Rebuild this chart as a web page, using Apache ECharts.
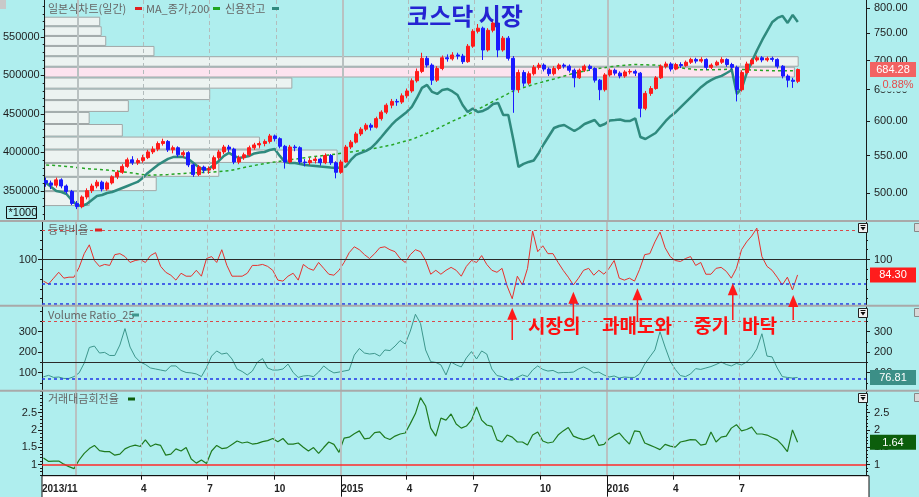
<!DOCTYPE html>
<html>
<head>
<meta charset="utf-8">
<script src="https://cdn.jsdelivr.net/npm/echarts@6.0.0/dist/echarts.min.js"></script>
<style>
html,body{margin:0;padding:0;background:#afeeee;overflow:hidden;}
#chart{width:919px;height:497px;}
</style>
</head>
<body>
<div id="chart"></div>
<script>
// ================= DATA =================
const firstWeek = '2013-11-18';           // one sample per week
// weekly candles: [open, close, low, high]
const candles = [
[516,513,508,520],[513,510,505,516],[510,517,507,520],[517,509,506,519],[509,502,499,511],
[502,487,485,504],[487,483,480,490],[483,495,481,497],[495,503,492,506],[503,509,500,512],
[509,514,506,517],[514,505,502,516],[505,513,503,515],[513,521,511,523],[521,527,518,530],
[527,535,525,538],[535,544,533,547],[544,540,537,549],[540,543,537,546],[543,547,540,551],
[547,555,545,558],[555,559,552,563],[559,567,556,570],[567,570,564,574],[570,558,555,572],
[558,561,553,564],[561,551,548,563],[551,554,547,557],[554,537,534,556],[537,524,521,539],
[524,534,522,537],[534,530,526,536],[530,532,525,535],[532,547,530,550],[547,555,544,558],
[555,562,552,565],[562,559,555,565],[559,541,538,561],[541,547,538,550],[547,551,544,554],
[551,561,549,564],[561,565,558,568],[565,567,561,570],[567,570,563,573],[570,578,567,581],
[578,574,570,580],[574,563,560,576],[563,541,532,565],[541,562,539,565],[562,561,556,565],
[561,541,538,563],[541,540,535,545],[540,543,537,547],[543,545,539,548],[545,540,536,547],
[540,550,538,553],[550,540,537,552],[540,527,519,542],[527,541,525,544],[541,562,540,565],
[562,569,559,572],[569,581,567,584],[581,588,578,591],[588,594,585,597],[594,591,586,597],
[591,604,589,607],[604,614,601,617],[614,625,611,628],[625,631,620,635],[631,630,624,635],
[630,640,627,644],[640,648,636,652],[648,665,645,669],[665,681,662,686],[681,704,678,714],
[704,692,688,708],[692,666,658,695],[666,686,663,690],[686,705,683,709],[705,703,698,711],
[703,710,700,715],[710,708,702,714],[708,698,694,712],[698,726,696,730],[726,754,723,758],
[754,760,750,768],[760,719,701,763],[719,756,716,760],[756,770,752,774],[770,719,706,773],
[719,741,716,745],[741,704,700,745],[704,650,613,708],[650,679,645,684],[679,661,655,683],
[661,677,658,681],[677,688,674,692],[688,692,684,696],[692,685,681,695],[685,677,673,688],
[677,686,674,690],[686,692,683,695],[692,690,686,695],[690,683,679,693],[683,670,654,686],
[670,683,668,686],[683,690,680,693],[690,686,682,693],[686,666,662,688],[666,650,633,668],
[650,675,647,678],[675,683,672,686],[683,678,674,686],[678,673,669,681],[673,680,670,683],
[680,681,676,685],[681,678,673,684],[678,620,606,680],[620,644,617,648],[644,652,640,656],
[652,670,650,673],[670,690,668,693],[690,694,686,698],[694,685,681,697],[685,693,683,696],
[693,691,687,697],[691,697,689,700],[697,702,694,705],[702,699,695,705],[699,702,696,706],
[702,688,684,704],[688,692,685,695],[692,697,690,700],[697,702,694,706],[702,693,689,704],
[693,688,684,696],[688,650,631,691],[650,679,647,683],[679,694,676,698],[694,701,691,704],
[701,705,698,709],[705,701,697,708],[701,704,698,707],[704,702,698,707],[702,690,686,704],
[690,673,669,692],[673,666,654,676],[666,664,653,670],[664,684.28,661,686]
];
// 신용잔고 (credit balance, left axis, weekly)
const credit = [
360400,355200,350000,348700,346100,338300,331800,330500,333100,338300,
343500,344800,347400,348700,351300,353900,356500,359100,361700,366900,
373400,378500,383800,387700,391600,394000,394500,394000,391600,386400,
381200,377300,378500,383800,389000,395500,399400,395500,392700,394000,
395500,398700,400000,400600,403200,404500,395500,387700,386400,386400,
385100,383800,383100,382500,381800,381200,380500,379900,380500,381800,
390300,396800,399400,402000,405900,412400,420100,428000,435700,442200,
447400,452600,459100,470800,483800,487700,478600,476000,481200,482500,
479200,474700,461700,452600,457200,452600,453900,457200,463000,464300,
448700,448700,416200,381200,385100,387700,389600,399400,411000,421400,
431800,434400,435700,431800,427900,431800,437000,439600,442200,434400,
437000,441600,442200,442900,440900,440900,444200,420100,417500,421400,
425300,433100,440900,447400,452600,459100,465600,472100,478600,485100,
490300,494200,497400,499400,503200,507100,476000,483800,504500,518800,
533100,546100,557800,569500,574700,577300,568200,578600,569500
];
// MA_종가,200 (one value every 4 weeks)
const ma200Step = 4;
const ma200 = [537,535,532,530,527,523,524,526,527,529,535,540,544,548,551,555,559,565,573,585,
600,614,631,648,659,668,678,685,690,693,692,688,684,684,685,683,682,682];
// 등락비율
const adr = [
78,75,81,87,81,82,82,92,106,115, 99,93,95,94,105,106,103,97,99,100,
97,104,107,93,87,84,79,86,83,83, 89,83,101,103,97,110,94,83,83,83,
86,94,94,95,93,89,79,78,83,86, 79,95,91,89,97,91,85,84,89,97,
107,113,110,105,101,106,112,113,110,108, 101,97,105,110,108,99,85,89,85,89,
92,89,83,93,99,97,104,95,89,87, 91,73,60,83,74,91,129,108,114,106,
106,97,89,82,74,81,89,91,84,89, 85,91,99,81,79,81,78,90,105,106,
118,128,112,103,99,98,101,103,94,97, 85,85,91,92,88,81,91,110,118,124,
132,103,93,89,82,74,82,69,84.3
];
// Volume Ratio_25
const volumeRatio = [
80,87,77,79,72,72,81,99,147,223, 230,196,199,184,184,235,315,225,177,152,
140,123,118,113,108,133,133,111,101,99, 94,81,125,181,206,191,196,167,118,106,
89,108,152,169,123,113,113,118,142,101, 77,84,86,81,103,133,113,99,103,108,
113,186,218,196,191,194,181,211,208,230, 257,240,303,385,340,211,154,150,138,89,
152,138,128,172,203,167,206,191,118,86, 81,67,62,77,89,81,113,133,116,108,
111,99,101,101,103,118,128,116,99,103, 89,79,84,74,79,77,77,94,142,177,
211,300,225,157,116,86,81,94,120,116, 123,130,140,152,140,133,145,138,152,177,
216,290,181,177,123,81,77,74,76.81
];
// 거래대금회전율
const turnover = [
1.19,1.09,1.10,1.10,1.01,0.94,0.88,1.13,1.32,1.46, 1.55,1.40,1.37,1.37,1.27,1.30,1.45,1.52,1.56,1.52,
1.71,1.52,1.59,1.55,1.27,1.30,1.45,1.39,1.49,1.16, 1.04,1.13,1.03,1.39,1.55,1.46,1.48,1.58,1.68,1.62,
1.65,1.59,1.61,1.66,1.69,1.75,1.66,1.75,1.59,1.59, 1.62,1.50,1.39,1.49,1.32,1.49,1.65,1.58,1.35,1.76,
1.79,1.89,1.97,1.74,1.76,1.92,1.94,1.78,1.72,1.82, 1.88,1.91,2.18,2.47,2.93,2.69,2.05,1.82,2.34,2.28,
2.46,2.17,2.05,2.11,2.28,2.66,2.28,2.14,2.10,1.71, 1.65,1.85,1.79,1.65,1.65,1.56,1.85,1.94,1.68,1.62,
1.65,1.85,1.97,2.07,1.82,1.76,1.72,1.76,1.85,1.55, 1.58,1.74,1.84,1.91,1.74,1.59,1.97,1.95,1.62,1.56,
1.50,1.43,1.58,1.53,1.50,1.65,1.68,1.72,1.71,1.56, 1.59,1.94,1.65,1.79,1.82,2.05,2.15,1.97,2.01,2.08,
1.88,1.88,1.85,1.78,1.71,1.56,1.37,2.00,1.64
];
// price-by-volume bands (price edges, bottom -> top) and relative volume per band
const profileEdges = [483.7,502.4,521.0,539.7,558.4,577.1,595.8,614.4,633.1,651.8,670.5,689.1,707.8,726.5,745.2,763.8,782.5];
const profileVolume = [5.9,14.8,23.1,38.8,28.5,10.3,5.9,11.1,21.9,32.8,99.5,100,14.5,8.1,7.5,7.3];

// axis tick labels
const priceTicks = [500,550,600,650,700,750,800];
const creditTicks = [350000,400000,450000,500000,550000];
const adrTicks = [100];
const vrTicks = [100,200,300];
const turnTicks = [1,1.5,2,2.5];
const xLabelDates = ['2013-11-16','2014-04-01','2014-07-01','2014-10-01','2015-01-01','2015-04-01','2015-07-01','2015-10-01','2016-01-01','2016-04-01','2016-07-01'];
const xLabelTexts = ['2013/11','4','7','10','2015','4','7','10','2016','4','7'];
const yearLines = ['2014-01-01','2015-01-01','2016-01-01'];
const quarterLines = ['2014-04-01','2014-07-01','2014-10-01','2015-04-01','2015-07-01','2015-10-01','2016-04-01','2016-07-01'];
// reference levels
const adrLevels = {high:130, mid:100, low:[75,55]};
const vrLevels = {high:350, mid:150, low:[70]};
const turnLevel = 1;
// annotation
const arrowDates = ['2015-08-24','2015-11-16','2016-02-12','2016-06-22','2016-09-13'];
const arrowTipAdr = [50.8,67.1,70.6,75.7,63.8];
const dayChange = '0.88%';

// ================= helpers =================
function ts(s){const p=s.split('-').map(Number);return new Date(p[0],p[1]-1,p[2]).getTime();}
function week(i){const p=firstWeek.split('-').map(Number);return new Date(p[0],p[1]-1,p[2]+7*i).getTime();}
function steps(from,to,step,skip){const out=[];for(let k=0;from+k*step<=to+1e-9;k++){const v=Math.round((from+k*step)*1000)/1000;if(!skip.some(s=>Math.abs(s-v)<1e-9))out.push(v);}return out;}

const X_MIN = ts('2013-11-16'), X_MAX = ts('2016-12-22');
const lastClose = candles[candles.length-1][1];

const candleData = candles.map((c,i)=>[week(i),c[0],c[1],c[2],c[3]]);
const creditData = credit.map((v,i)=>[week(i),v]);
const maData = ma200.map((v,k)=>[week(k*ma200Step),v]);
const adrData = adr.map((v,i)=>[week(i),v]);
const vrData = volumeRatio.map((v,i)=>[week(i),v]);
const turnData = turnover.map((v,i)=>[week(i),v]);
const profileData = profileVolume.map((v,k)=>[profileEdges[k],profileEdges[k+1],v]);

// ================= style / layout =================
const AX = '#1a1a1a';
const LBL = {color:'#1e1e1e',fontFamily:'Liberation Sans',fontSize:11};
const RANGE = {
  price:[465.7,816.4], credit:[311000,598000], adr:[52.9,139.3], vr:[12.2,426.8], turn:[0.677,3.13]
};

function mainAxis(grid,pos,type,r,ticks,fmt){
  return {gridIndex:grid,type:type,logBase:10,position:pos,min:r[0],max:r[1],
    axisLine:{show:true,onZero:false,lineStyle:{color:AX,width:1}},
    axisTick:{show:true,customValues:ticks,length:4,lineStyle:{color:AX}},
    axisLabel:Object.assign({show:true,customValues:ticks,formatter:fmt,margin:pos==='left'?5:8},LBL),
    splitLine:{show:false},z:4};
}
function minorAxis(grid,pos,type,r,ticks){
  return {gridIndex:grid,type:type,logBase:10,position:pos,min:r[0],max:r[1],
    axisLine:{show:false},axisTick:{show:true,customValues:ticks,length:2,lineStyle:{color:AX}},
    axisLabel:{show:false},splitLine:{show:false},z:4};
}
function boxAxis(grid,type,r,value,bg){
  return {gridIndex:grid,type:type,logBase:10,position:'right',min:r[0],max:r[1],
    axisLine:{show:false},axisTick:{show:false},splitLine:{show:false},
    axisLabel:{show:true,customValues:[value],margin:4,backgroundColor:bg,padding:[2,6,1,6],
      formatter:v=>'{v|'+Number(v).toFixed(2)+'}',
      rich:{v:{width:34,align:'center',color:'#ffffff',fontFamily:'Liberation Sans',fontSize:11,lineHeight:12}}},
    z:6};
}
const fmtPrice = v=>Number(v).toFixed(2);
const fmtPlain = v=>String(v);

const yAxis = [
  mainAxis(0,'right','log',RANGE.price,priceTicks,fmtPrice),                 //0
  mainAxis(0,'left','value',RANGE.credit,creditTicks,fmtPlain),               //1
  minorAxis(0,'left','value',RANGE.credit,steps(320000,590000,10000,creditTicks)), //2
  boxAxis(0,'log',RANGE.price,lastClose,'#f26262'),                           //3
  mainAxis(1,'left','value',RANGE.adr,adrTicks,fmtPlain),                     //4
  minorAxis(1,'left','value',RANGE.adr,steps(60,130,10,adrTicks)),            //5
  mainAxis(1,'right','value',RANGE.adr,adrTicks,fmtPlain),                    //6
  minorAxis(1,'right','value',RANGE.adr,steps(60,130,10,adrTicks)),           //7
  boxAxis(1,'value',RANGE.adr,adr[adr.length-1],'#ff1c1c'),                   //8
  mainAxis(2,'left','value',RANGE.vr,vrTicks,fmtPlain),                       //9
  minorAxis(2,'left','value',RANGE.vr,steps(50,400,50,vrTicks)),              //10
  mainAxis(2,'right','value',RANGE.vr,vrTicks,fmtPlain),                      //11
  minorAxis(2,'right','value',RANGE.vr,steps(50,400,50,vrTicks)),             //12
  boxAxis(2,'value',RANGE.vr,volumeRatio[volumeRatio.length-1],'#3c8f87'),    //13
  mainAxis(3,'left','value',RANGE.turn,turnTicks,fmtPlain),                   //14
  minorAxis(3,'left','value',RANGE.turn,steps(0.7,3.1,0.1,turnTicks)),        //15
  mainAxis(3,'right','value',RANGE.turn,turnTicks,fmtPlain),                  //16
  minorAxis(3,'right','value',RANGE.turn,steps(0.7,3.1,0.1,turnTicks)),       //17
  boxAxis(3,'value',RANGE.turn,turnover[turnover.length-1],'#0c5e0c')         //18
];

// x axes use numeric timestamps on value axes
const xLabelTs = xLabelDates.map(ts);
const xAxis = [
  {gridIndex:0,type:'value',min:X_MIN,max:X_MAX,show:false},
  {gridIndex:1,type:'value',min:X_MIN,max:X_MAX,show:false},
  {gridIndex:2,type:'value',min:X_MIN,max:X_MAX,show:false},
  {gridIndex:3,type:'value',min:X_MIN,max:X_MAX,position:'bottom',z:5,
    axisLine:{show:true,onZero:false,lineStyle:{color:'#111'}},
    axisTick:{show:true,customValues:xLabelTs.slice(1),length:4,lineStyle:{color:'#111'}},
    axisLabel:{show:true,customValues:xLabelTs,align:'left',margin:9,hideOverlap:false,
      color:'#222',fontFamily:'Liberation Sans',fontSize:10,fontWeight:'bold',
      formatter:function(v){const k=xLabelTs.findIndex(t=>Math.abs(t-v)<43200000);return k>=0?xLabelTexts[k]:'';}},
    splitLine:{show:false}},
  {gridIndex:0,type:'value',min:0,max:109,show:false},
  {gridIndex:3,type:'value',min:X_MIN,max:X_MAX,position:'bottom',z:5,
    axisLine:{show:false},axisTick:{show:true,customValues:[ts('2015-01-01'),ts('2016-01-01')],length:21,lineStyle:{color:'#111'}},
    axisLabel:{show:false},splitLine:{show:false}}
];

const vGrid = [
  ...yearLines.map(d=>({xAxis:ts(d),lineStyle:{color:'#b9c1c1',width:2,type:'solid'}})),
  ...quarterLines.map(d=>({xAxis:ts(d),lineStyle:{color:'#b3bcbc',width:1,type:[4,3]}}))
];
function marks(extra){
  return {silent:true,symbol:['none','none'],label:{show:false},animation:false,emphasis:{disabled:true},data:vGrid.concat(extra)};
}
const redDash = {color:'#d94a4a',width:1,type:[3,3]};
const blueDash = {color:'#2236e6',width:1.5,type:[3,3]};
const blackSolid = {color:'#2a2a2a',width:1,type:'solid'};

const option = {
  backgroundColor:'#afeeee',
  animation:false,
  grid:[
    {left:42,right:50,top:0,height:221},
    {left:42,right:50,top:221,height:84.7},
    {left:42,right:50,top:305.7,height:85},
    {left:42,right:50,top:390.7,height:85}
  ],
  xAxis:xAxis,
  yAxis:yAxis,
  series:[
    {type:'custom',name:'매물대',xAxisIndex:4,yAxisIndex:0,z:1,silent:true,clip:true,
      data:profileData,encode:{x:2,y:[0,1]},
      renderItem:function(params,api){
        const lo=api.value(0),hi=api.value(1),vol=api.value(2);
        const a=api.coord([0,hi]),b=api.coord([vol,lo]);
        const cur=lastClose>=lo&&lastClose<hi;
        return {type:'rect',shape:{x:a[0],y:a[1]+0.5,width:b[0]-a[0],height:b[1]-a[1]-1},
          style:{fill:cur?'#fde3ef':'#ecf3f1',stroke:'#a0a7a7',lineWidth:1}};
      }},
    {type:'line',name:'MA_종가,200',xAxisIndex:0,yAxisIndex:0,data:maData,symbol:'none',z:3,
      lineStyle:{color:'#25a525',width:1.5,type:[3,3]},markLine:marks([])},
    {type:'line',name:'신용잔고',xAxisIndex:0,yAxisIndex:1,data:creditData,symbol:'none',z:4,
      lineStyle:{color:'#2f8a7e',width:2.5}},
    {type:'candlestick',name:'일본식차트(일간)',xAxisIndex:0,yAxisIndex:0,data:candleData,z:5,
      encode:{x:0,y:[1,2,3,4]},barWidth:3.5,
      itemStyle:{color:'#ff1a1a',color0:'#1a1aff',borderColor:'#ff1a1a',borderColor0:'#1a1aff',borderWidth:1}},
    {type:'line',name:'등락비율',xAxisIndex:1,yAxisIndex:4,data:adrData,symbol:'none',z:4,
      lineStyle:{color:'#e8302c',width:1},
      markLine:marks([{yAxis:adrLevels.high,lineStyle:redDash},{yAxis:adrLevels.mid,lineStyle:blackSolid},
        ...adrLevels.low.map(v=>({yAxis:v,lineStyle:blueDash}))])},
    {type:'line',name:'Volume Ratio_25',xAxisIndex:2,yAxisIndex:9,data:vrData,symbol:'none',z:4,
      lineStyle:{color:'#3d968c',width:1},
      markLine:marks([{yAxis:vrLevels.high,lineStyle:redDash},{yAxis:vrLevels.mid,lineStyle:blackSolid},
        ...vrLevels.low.map(v=>({yAxis:v,lineStyle:blueDash}))])},
    {type:'line',name:'거래대금회전율',xAxisIndex:3,yAxisIndex:14,data:turnData,symbol:'none',z:4,
      lineStyle:{color:'#1f7a1f',width:1.2},
      markLine:marks([{yAxis:turnLevel,lineStyle:{color:'#ff2a2a',width:1.5,type:'solid'}}])}
  ]
};

const chart = echarts.init(document.getElementById('chart'),null,{renderer:'canvas'});
chart.setOption(option);

// ================= annotations (texts, arrows, separators) =================
const KO = 'Noto Sans CJK KR';
const G = [];
G.push({type:'rect',z:-1,silent:true,shape:{x:42,y:475.7,width:827,height:30},style:{fill:'#ffffff',stroke:'#111',lineWidth:1}});
[221,305.7,390.7].forEach(y=>G.push({type:'line',z:50,silent:true,shape:{x1:0,y1:y,x2:919,y2:y},style:{stroke:'#a9a9a9',lineWidth:2}}));
G.push({type:'rect',z:50,shape:{x:0,y:0,width:6,height:9},style:{fill:'#c9c9c9'}});
function txt(x,y,t,size,color){return {type:'text',z:60,silent:true,x:x,y:y,style:{text:t,fontFamily:KO,fontSize:size,fill:color,verticalAlign:'middle',align:'left'}};}
function mark(x,y,color){return {type:'rect',z:60,silent:true,shape:{x:x,y:y-1.5,width:7,height:3},style:{fill:color}};}
G.push(txt(48,8.5,'일본식차트(일간)',11,'#666'));G.push(mark(135,8.5,'#e02020'));
G.push(txt(146,8.5,'MA_종가,200',11,'#666'));G.push(mark(213,8.5,'#1fa51f'));
G.push(txt(225,8.5,'신용잔고',11,'#666'));G.push(mark(272,8.5,'#2f8a7e'));
G.push(txt(48,230,'등락비율',11,'#666'));G.push(mark(95,230,'#e02020'));
G.push(txt(48,315,'Volume Ratio_25',11,'#666'));G.push(mark(132,315,'#3d968c'));
G.push(txt(48,399,'거래대금회전율',11,'#666'));G.push(mark(128,399,'#0c5e0c'));
G.push({type:'text',z:60,silent:true,x:465,y:16,style:{text:'코스닥 시장',fontFamily:KO,fontSize:24,fontWeight:'bold',fill:'#2424d2',align:'center',verticalAlign:'middle'}});
G.push({type:'rect',z:60,silent:true,shape:{x:6.5,y:206.5,width:30,height:12},style:{fill:'none',stroke:'#111',lineWidth:1}});
G.push({type:'text',z:60,silent:true,x:8.5,y:212.8,style:{text:'*1000',fontFamily:'Liberation Sans',fontSize:11,fill:'#111',verticalAlign:'middle'}});
const pY = chart.convertToPixel({yAxisIndex:3},lastClose);
G.push({type:'text',z:60,silent:true,x:898,y:pY+15.5,style:{text:dayChange,fontFamily:'Liberation Sans',fontSize:11,fill:'#e64a4a',align:'center',verticalAlign:'middle',backgroundColor:'#afeeee',padding:[1,2]}});
const tailLen = [32.3,30,33.4,36.7,25];
arrowDates.forEach((d,k)=>{
  const x = chart.convertToPixel({xAxisIndex:1},ts(d));
  const y = chart.convertToPixel({yAxisIndex:4},arrowTipAdr[k]);
  G.push({type:'line',z:60,silent:true,shape:{x1:x,y1:y+10,x2:x,y2:y+tailLen[k]},style:{stroke:'#ff1a1a',lineWidth:1.5}});
  G.push({type:'polygon',z:60,silent:true,shape:{points:[[x,y],[x-5,y+12],[x+5,y+12]]},style:{fill:'#ff1a1a'}});
});
[['시장의',528],['과매도와',602],['중기',694],['바닥',742]].forEach(w=>{
  G.push({type:'text',z:60,silent:true,x:w[1],y:326,style:{text:w[0],fontFamily:KO,fontSize:19,fontWeight:'bold',fill:'#ff1010',verticalAlign:'middle'}});
});
[223.5,308.5,393.5].forEach(y=>{
  G.push({type:'rect',z:60,silent:true,shape:{x:858.5,y:y,width:9,height:9},style:{fill:'#f2f2f2',stroke:'#222',lineWidth:1}});
  G.push({type:'polygon',z:61,silent:true,shape:{points:[[860.5,y+3.5],[865.5,y+3.5],[863,y+7]]},style:{fill:'#111'}});
  G.push({type:'line',z:61,silent:true,shape:{x1:860.5,y1:y+2,x2:865.5,y2:y+2},style:{stroke:'#111',lineWidth:1}});
  G.push({type:'rect',z:60,silent:true,shape:{x:914.5,y:y,width:6,height:8},style:{fill:'#d8d8d8',stroke:'#888',lineWidth:1}});
});
chart.setOption({graphic:{elements:G}});
</script>
</body>
</html>
